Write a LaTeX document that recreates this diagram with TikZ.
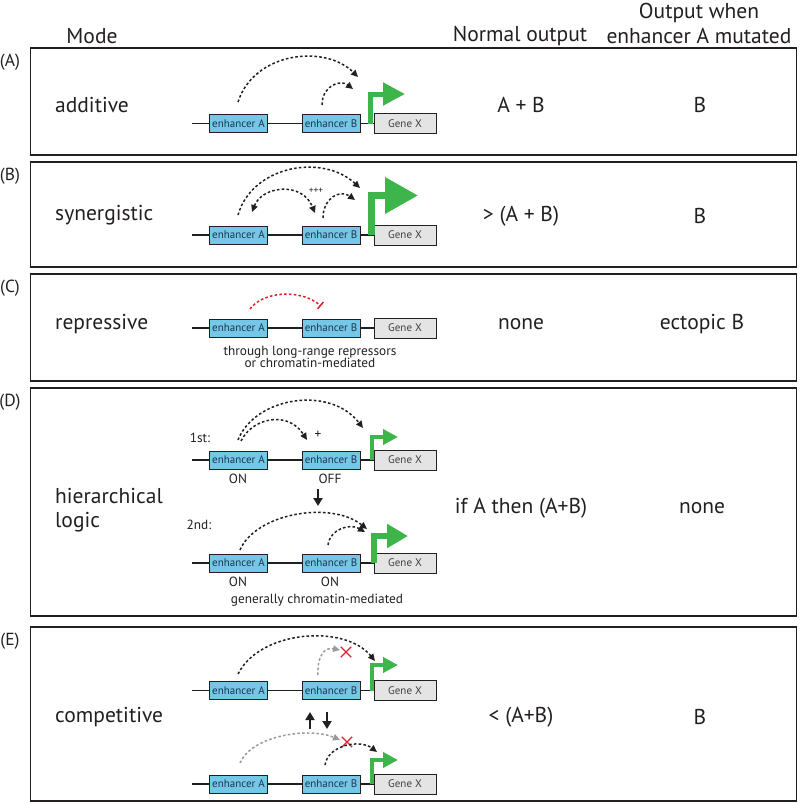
\documentclass[tikz,border=0pt]{standalone}
\usepackage{fontspec}
\setmainfont{PT Sans}
\usetikzlibrary{arrows.meta,shapes.misc}
\definecolor{enhblue}{HTML}{74C7E6}
\definecolor{enhtext}{HTML}{1E3550}
\definecolor{genegray}{HTML}{E4E4E4}
\definecolor{promgreen}{HTML}{3DB54A}
\definecolor{inkc}{HTML}{231F20}
\definecolor{repred}{HTML}{E31E2D}
\definecolor{fadegray}{HTML}{9A9A9A}
\begin{document}
\begin{tikzpicture}[x=1pt,y=-1pt,
  panel/.style={draw=inkc, line width=1.3pt},
  big/.style={font=\fontsize{21.5}{24}\selectfont, text=inkc, inner sep=0pt},
  lab/.style={font=\fontsize{17.5}{20}\selectfont, text=inkc, inner sep=0pt},
  small/.style={font=\fontsize{13.3}{13.5}\selectfont, text=inkc, inner sep=0pt},
  tiny/.style={font=\fontsize{9.5}{9.5}\selectfont, text=inkc, inner sep=0pt},
  enh/.style={draw=inkc, fill=enhblue, line width=1pt, minimum width=58pt, minimum height=18pt, inner sep=0pt, text=enhtext, font=\fontsize{11}{11}\selectfont},
  genebox/.style={draw=inkc, fill=genegray, line width=1pt, minimum width=62pt, minimum height=20pt, inner sep=0pt, text=inkc!85, font=\fontsize{11}{11}\selectfont},
  dnaline/.style={draw=inkc, line width=1.3pt},
  dashlink/.style={draw=inkc, line width=1.5pt, dash pattern=on 2.6pt off 2.2pt, -{Triangle[length=7pt,width=6.5pt]}},
  dashboth/.style={draw=inkc, line width=1.5pt, dash pattern=on 2.6pt off 2.2pt, {Triangle[length=7pt,width=6.5pt]}-{Triangle[length=7pt,width=6.5pt]}},
  fadelink/.style={draw=fadegray, line width=1.5pt, dash pattern=on 2.6pt off 2.2pt, -{Triangle[length=7pt,width=6.5pt]}},
  replink/.style={draw=repred, line width=1.5pt, dash pattern=on 2.6pt off 2.2pt, -{Bar[width=9pt,line width=1.5pt]}},
  prom/.style n args={3}{draw=promgreen, line width=#1, line join=miter, -{Triangle[length=#2,width=#3]}},
  blockarrow/.style={draw=inkc, line width=2.6pt, -{Triangle[length=8pt,width=9pt]}},
  nogo/.style={cross out, draw=repred, line width=1.3pt, minimum size=9pt, inner sep=0pt},
  generow/.pic={
    \coordinate (-l) at (192,0);
    \node[enh] (-ea) at (238.5,0) {enhancer A};
    \node[enh] (-eb) at (331,0) {enhancer B};
    \node[genebox] (-gx) at (405,0) {Gene X};
    \draw[dnaline] (-l) -- (-ea) (-ea) -- (-eb) (-eb) -- (-gx);
  }
]
\useasboundingbox (0,0) rectangle (800,804);

% headers
\node[big] (hmode) at (92,36) {Mode};
\node[big] (hnorm) at (520,36) {Normal output};
\node[big] (hmut1) at (699,13) {Output when};
\node[big] (hmut2) at (699,36) {enhancer A mutated};

% panels
\draw[panel] (30.5,48) rectangle (796.5,155);
\draw[panel] (30.5,162) rectangle (796.5,267);
\draw[panel] (30.5,274) rectangle (796.5,381);
\draw[panel] (30.5,388) rectangle (796.5,616);
\draw[panel] (30.5,627) rectangle (796.5,801);

\node[lab] (lA) at (10,62) {(A)};
\node[lab] (lB) at (10,176) {(B)};
\node[lab] (lC) at (10,288) {(C)};
\node[lab] (lD) at (10,402) {(D)};
\node[lab] (lE) at (10,641) {(E)};

% mode names
\node[big, anchor=west] (mA) at (55,105) {additive};
\node[big, anchor=west] (mB) at (55,215) {synergistic};
\node[big, anchor=west] (mC) at (55,324) {repressive};
\node[big, anchor=west, align=left] (mD) at (55,510) {hierarchical\\logic};
\node[big, anchor=west] (mE) at (55,717) {competitive};

% outputs
\node[big] (oA) at (521,105) {A + B};
\node[big] (oB) at (521,216) {> (A + B)};
\node[big] (oC) at (521,324) {none};
\node[big] (oD) at (521,508) {if A then (A+B)};
\node[big] (oE) at (521,717) {< (A+B)};
\node[big] (uA) at (700,105) {B};
\node[big] (uB) at (700,216) {B};
\node[big] (uC) at (702,324) {ectopic B};
\node[big] (uD) at (702,508) {none};
\node[big] (uE) at (700,717) {B};

% gene rows
\pic (rA) at (0,123.5) {generow};
\pic (rB) at (0,235) {generow};
\pic (rC) at (0,328) {generow};
\pic (rD1) at (0,460) {generow};
\pic (rD2) at (0,563) {generow};
\pic (rE1) at (0,690.5) {generow};
\pic (rE2) at (0,784) {generow};

% promoter arrows
\coordinate (pAs) at (370,123.5); \coordinate (pAe) at (405,94);
\draw[prom={5pt}{22pt}{22pt}] (pAs) |- (pAe);
\coordinate (pBs) at (371.5,235); \coordinate (pBe) at (418,195.5);
\draw[prom={7pt}{33pt}{35pt}] (pBs) |- (pBe);
\coordinate (pD1s) at (372,460); \coordinate (pD1e) at (398,437);
\draw[prom={4pt}{15pt}{15pt}] (pD1s) |- (pD1e);
\coordinate (pD2s) at (374,563); \coordinate (pD2e) at (408,536);
\draw[prom={6pt}{21pt}{23pt}] (pD2s) |- (pD2e);
\coordinate (pE1s) at (372,690.5); \coordinate (pE1e) at (398,665);
\draw[prom={4pt}{15pt}{15pt}] (pE1s) |- (pE1e);
\coordinate (pE2s) at (372,784); \coordinate (pE2e) at (398,760);
\draw[prom={4pt}{15pt}{15pt}] (pE2s) |- (pE2e);

% (A) additive
\coordinate (a1s) at (238,102); \coordinate (a1e) at (358,77);
\draw[dashlink] (a1s) .. controls (254,52) and (325,44) .. (a1e);
\coordinate (a2s) at (322,105); \coordinate (a2e) at (353,89);
\draw[dashlink] (a2s) .. controls (322,86) and (340,79) .. (a2e);

% (B) synergistic
\coordinate (b1s) at (238,215); \coordinate (b1e) at (360,188);
\draw[dashlink] (b1s) .. controls (252,166) and (322,153) .. (b1e);
\coordinate (b2s) at (323,218); \coordinate (b2e) at (355,200);
\draw[dashlink] (b2s) .. controls (323,198) and (340,189) .. (b2e);
\coordinate (b3s) at (252,212); \coordinate (b3e) at (315,213);
\draw[dashboth] (b3s) .. controls (262,186) and (302,181) .. (b3e);
\node[tiny] (ppp) at (316,191) {+++};

% (C) repressive
\coordinate (c1s) at (250,309); \coordinate (c1e) at (321,306);
\draw[replink] (c1s) .. controls (262,292) and (300,288) .. (c1e);
\node[small, align=center, font=\fontsize{13.3}{12.5}\selectfont] (cnote) at (310,357) {through long-range repressors\\or chromatin-mediated};

% (D) hierarchical
\node[small] (first) at (200,438) {1st:};
\coordinate (d1s) at (238,440); \coordinate (d1e) at (363,428);
\draw[dashlink] (d1s) .. controls (255,397) and (330,385) .. (d1e);
\coordinate (d2s) at (241,441); \coordinate (d2e) at (307,440);
\draw[dashlink] (d2s) .. controls (252,418) and (288,410) .. (d2e);
\node[small] (plus) at (318,435) {+};
\node[small] (on1) at (238,479) {ON};
\node[small] (off1) at (330,479) {OFF};
\coordinate (dn1) at (318,489); \coordinate (dn2) at (318,506);
\draw[blockarrow] (dn1) -- (dn2);
\node[small] (second) at (199,525) {2nd:};
\coordinate (d3s) at (240,550); \coordinate (d3e) at (367,529);
\draw[dashlink] (d3s) .. controls (255,514) and (330,500) .. (d3e);
\coordinate (d4s) at (328,545); \coordinate (d4e) at (365,532);
\draw[dashlink] (d4s) .. controls (330,529) and (350,523) .. (d4e);
\node[small] (on2) at (238,582) {ON};
\node[small] (on3) at (330,582) {ON};
\node[small] (dnote) at (317,600) {generally chromatin-mediated};

% (E) competitive
\coordinate (e1s) at (238,674); \coordinate (e1e) at (375,661);
\draw[dashlink] (e1s) .. controls (260,630) and (345,624) .. (e1e);
\coordinate (e2s) at (318,675); \coordinate (e2e) at (340,650);
\draw[fadelink] (e2s) .. controls (317,655) and (325,647) .. (e2e);
\node[nogo] (x1) at (346,652) {};
\coordinate (up1) at (310,729); \coordinate (up2) at (310,712);
\draw[blockarrow] (up1) -- (up2);
\coordinate (dw1) at (327,712); \coordinate (dw2) at (327,729);
\draw[blockarrow] (dw1) -- (dw2);
\coordinate (e3s) at (240,763); \coordinate (e3e) at (340,740);
\draw[fadelink] (e3s) .. controls (252,735) and (310,727) .. (e3e);
\node[nogo] (x2) at (347,742) {};
\coordinate (e4s) at (325,765); \coordinate (e4e) at (377,752);
\draw[dashlink] (e4s) .. controls (328,745) and (360,739) .. (e4e);
\end{tikzpicture}
\end{document}
